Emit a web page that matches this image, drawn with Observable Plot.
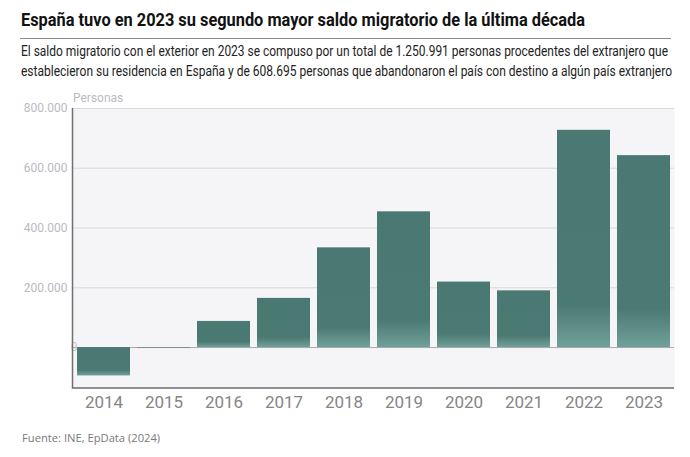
<!DOCTYPE html>
<html>
<head>
<meta charset="utf-8">
<script src="https://cdn.jsdelivr.net/npm/d3@7"></script>
<script src="https://cdn.jsdelivr.net/npm/@observablehq/plot@0.6"></script>
<style>
  html, body { margin: 0; padding: 0; background: #ffffff; }
  #wrap { position: relative; width: 690px; height: 457px; font-family: Roboto, "Noto Sans", sans-serif; }
  .fit { position: absolute; white-space: nowrap; transform-origin: 0 0; }
  #title { left: 21px; top: 10px; font-size: 17.5px; font-weight: 700; color: #111; }
  #rule { position: absolute; left: 20px; top: 38px; width: 651px; height: 1px; background: #8a8a8a; }
  #sub1 { left: 21px; top: 43px; font-size: 13.8px; color: #222; }
  #sub2 { left: 21px; top: 63px; font-size: 13.8px; color: #222; }
  #chart { position: absolute; left: 0; top: 88px; }
  #unit { position: absolute; left: 73px; top: 91px; font-size: 12px; color: #bdb9c1; }
  #caption { position: absolute; left: 22px; top: 430px; font-family: "Open Sans", sans-serif; font-size: 11.2px; color: #7a7a7a; }
</style>
</head>
<body>
<div id="wrap">
  <div id="title" class="fit" data-w="564">España tuvo en 2023 su segundo mayor saldo migratorio de la última década</div>
  <div id="rule"></div>
  <div id="sub1" class="fit" data-w="647">El saldo migratorio con el exterior en 2023 se compuso por un total de 1.250.991 personas procedentes del extranjero que</div>
  <div id="sub2" class="fit" data-w="651">establecieron su residencia en España y de 608.695 personas que abandonaron el país con destino a algún país extranjero</div>
  <div id="unit">Personas</div>
  <div id="chart"></div>
  <div id="caption">Fuente: INE, EpData (2024)</div>
</div>
<script>
const years = ["2014","2015","2016","2017","2018","2019","2020","2021","2022","2023"];
const saldo = [-94976, -1761, 87422, 164604, 333672, 454232, 219193, 189806, 727005, 642296];
const yTicks = [200000, 400000, 600000, 800000];
const yMin = -137000, yMax = 800000;

const data = years.map((y, i) => ({year: y, value: saldo[i]}));
const fmt = d => d3.format(",")(d).replace(/,/g, ".");

const defs = () => {
  const g = d3.create("svg:defs");
  const lg = g.append("linearGradient").attr("id", "barGrad")
    .attr("x1", 0).attr("y1", 0).attr("x2", 0).attr("y2", 1);
  lg.append("stop").attr("offset", "0").attr("stop-color", "#4a7873");
  lg.append("stop").attr("offset", "0.8").attr("stop-color", "#4b7974");
  lg.append("stop").attr("offset", "1").attr("stop-color", "#70a09a");
  return g.node();
};

const chart = Plot.plot({
  width: 690,
  height: 330,
  marginLeft: 73,
  marginRight: 16,
  marginTop: 20,
  marginBottom: 30,
  style: {background: "transparent", fontFamily: "Roboto, sans-serif"},
  x: {domain: years, paddingInner: 0.11, paddingOuter: 0.05, label: null},
  y: {domain: [yMin, yMax], label: null},
  marks: [
    defs,
    Plot.frame({fill: "#f5f4f6", stroke: "none"}),
    Plot.ruleY(yTicks, {stroke: "#d9d7db", strokeWidth: 1}),
    Plot.ruleY([0], {stroke: "#a9a7ab", strokeWidth: 1}),
    Plot.barY(data, {x: "year", y: "value", fill: "url(#barGrad)"}),
    Plot.axisY({ticks: yTicks, tickSize: 0, tickPadding: 6, tickFormat: fmt, fontSize: 12, color: "#bdb9c1", label: null}),
    Plot.axisY({ticks: [0], tickSize: 0, tickPadding: 0, dx: 4, tickFormat: fmt, fontSize: 12, color: "#c8c4cc", label: null}),
    Plot.axisX({tickSize: 0, tickPadding: 7, fontSize: 17, color: "#858585", label: null})
  ]
});

document.getElementById("chart").appendChild(chart);

// axis lines (left and bottom) from the scales' ranges
const svg = d3.select(chart);
const xr = chart.scale("x").range, yr = chart.scale("y").range;
const x0 = Math.min(...xr) - 0.5, x1 = Math.max(...xr);
const yb = Math.max(...yr), yt = Math.min(...yr);
svg.append("path")
  .attr("d", `M${x0},${yt}V${yb}H${x1}`)
  .attr("fill", "none").attr("stroke", "#6e6e6e").attr("stroke-width", 1.5);

// fit header lines to the reference widths
document.querySelectorAll(".fit").forEach(el => {
  const w = el.getBoundingClientRect().width;
  const target = +el.dataset.w;
  if (w > 0) el.style.transform = `scaleX(${target / w})`;
});
</script>
</body>
</html>
